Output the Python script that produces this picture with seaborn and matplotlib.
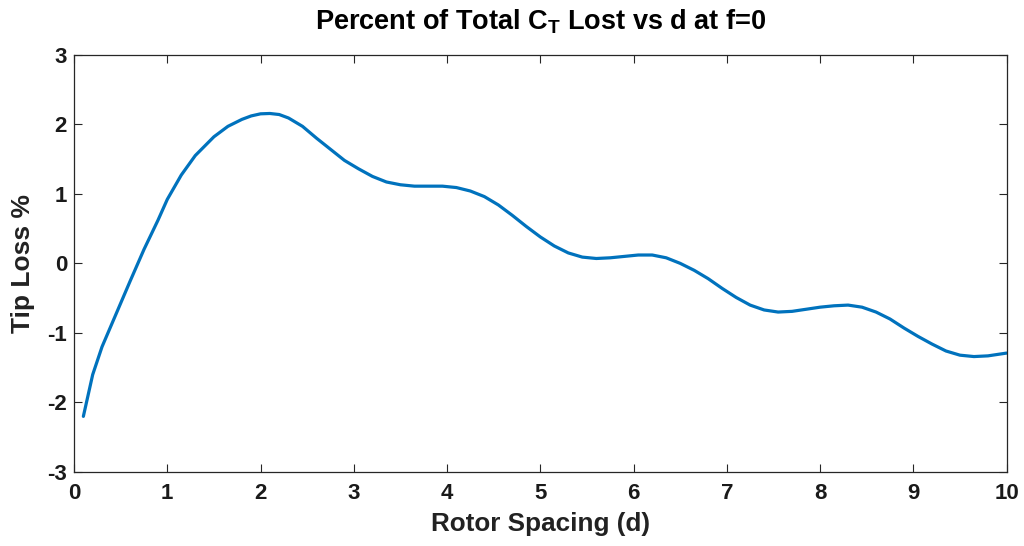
import matplotlib
matplotlib.use("Agg")
import matplotlib.pyplot as plt
import seaborn as sns
import pandas as pd

# Data
rotor_spacing = [0.1, 0.2, 0.3, 0.45, 0.6, 0.75, 0.9, 1.0, 1.15, 1.3, 1.5, 1.65, 1.8, 1.9, 2.0,
                 2.1, 2.2, 2.3, 2.45, 2.6, 2.75, 2.9, 3.05, 3.2, 3.35, 3.5, 3.65, 3.8, 3.95,
                 4.1, 4.25, 4.4, 4.55, 4.7, 4.85, 5.0, 5.15, 5.3, 5.45, 5.6, 5.75, 5.9,
                 6.05, 6.2, 6.35, 6.5, 6.65, 6.8, 6.95, 7.1, 7.25, 7.4, 7.55, 7.7, 7.85,
                 8.0, 8.15, 8.3, 8.45, 8.6, 8.75, 8.9, 9.05, 9.2, 9.35, 9.5, 9.65, 9.8, 10.0]
tip_loss = [-2.2, -1.6, -1.2, -0.73, -0.26, 0.2, 0.62, 0.92, 1.27, 1.55, 1.82, 1.97, 2.07, 2.12, 2.15,
            2.155, 2.14, 2.09, 1.97, 1.8, 1.64, 1.48, 1.36, 1.25, 1.17, 1.13, 1.11, 1.11, 1.11,
            1.09, 1.04, 0.96, 0.84, 0.69, 0.53, 0.38, 0.25, 0.15, 0.09, 0.07, 0.08, 0.10,
            0.12, 0.12, 0.08, 0.0, -0.10, -0.22, -0.36, -0.49, -0.60, -0.67, -0.70, -0.69, -0.66,
            -0.63, -0.61, -0.60, -0.63, -0.70, -0.80, -0.93, -1.05, -1.16, -1.26, -1.32, -1.34, -1.33, -1.29]
x_ticks = [0, 1, 2, 3, 4, 5, 6, 7, 8, 9, 10]
y_ticks = [-3, -2, -1, 0, 1, 2, 3]

sns.set_style("ticks")
plt.rcParams["font.family"] = ["Liberation Sans", "DejaVu Sans"]
plt.rcParams["font.weight"] = "bold"
plt.rcParams["mathtext.fontset"] = "custom"
plt.rcParams["mathtext.rm"] = "Liberation Sans:bold"
plt.rcParams["mathtext.bf"] = "Liberation Sans:bold"
plt.rcParams["mathtext.it"] = "Liberation Sans:bold"

df = pd.DataFrame({"Rotor Spacing (d)": rotor_spacing, "Tip Loss %": tip_loss})

fig = plt.figure(figsize=(10.24, 5.46), dpi=100)
ax = fig.add_axes([0.0723, 0.1355, 0.9107, 0.7643])

sns.lineplot(data=df, x="Rotor Spacing (d)", y="Tip Loss %", ax=ax,
             color="#0072BD", linewidth=2.3, estimator=None, sort=False)

ax.set_xlim(0, 10)
ax.set_ylim(-3, 3)
ax.set_xticks(x_ticks)
ax.set_yticks(y_ticks)
ax.set_xticklabels([str(t) for t in x_ticks])
ax.set_yticklabels([str(t) for t in y_ticks])

for s in ax.spines.values():
    s.set_visible(True)
    s.set_color("#262626")
    s.set_linewidth(0.9)

ax.tick_params(direction="in", length=6, width=0.8, color="#262626",
               top=True, right=True, labelsize=16, labelcolor="#1a1a1a")
ax.tick_params(axis="x", pad=8)
ax.tick_params(axis="y", pad=5)
for lab in ax.get_xticklabels() + ax.get_yticklabels():
    lab.set_fontweight("bold")

ax.set_xlabel("Rotor Spacing (d)", fontsize=18.8, fontweight="bold", color="#222222", labelpad=6)
ax.set_ylabel("Tip Loss %", fontsize=19, fontweight="bold", color="#222222", labelpad=9)
ax.set_title(r"Percent of Total C$_{\mathbf{T}}$ Lost vs d at f=0",
             fontsize=19.5, fontweight="bold", color="#000000", pad=18)

fig.savefig("out.png", dpi=100, facecolor="white")
